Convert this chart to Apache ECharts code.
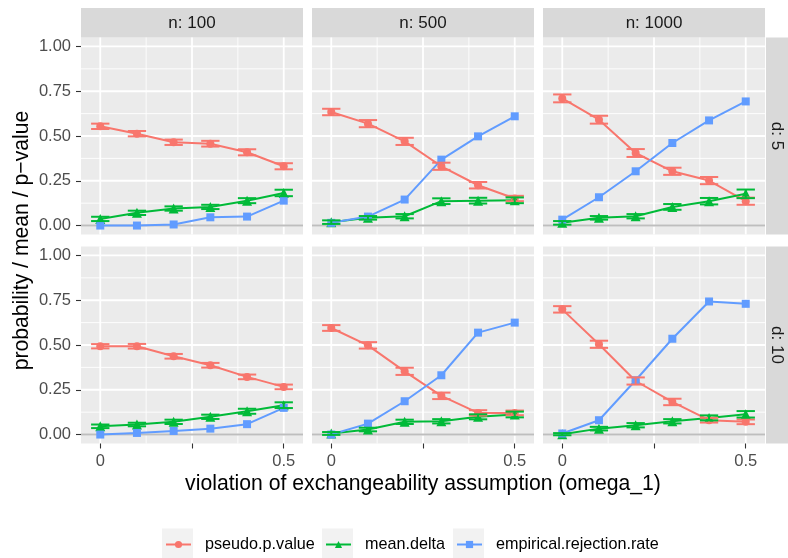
<!DOCTYPE html>
<html><head><meta charset="utf-8">
<script src="https://cdn.jsdelivr.net/npm/echarts@6/dist/echarts.min.js"></script>
<style>html,body{margin:0;padding:0;background:#fff}#c{width:788px;height:558px}</style>
</head><body><div id="c"></div>
<script>
// ---- data ----
const xValues = [0, 0.1, 0.2, 0.3, 0.4, 0.5];
const nLevels = ['n: 100', 'n: 500', 'n: 1000'];
const dLevels = ['d: 5', 'd: 10'];
const yTicks = [0, 0.25, 0.5, 0.75, 1];
const yTickLabels = ['0.00', '0.25', '0.50', '0.75', '1.00'];
const yMinor = [0.125, 0.375, 0.625, 0.875];
const xTicks = [0, 0.25, 0.5];
const xTickLabels = ['0', '', '0.5'];
const xMinor = [0.125, 0.375];
const seriesNames = ['pseudo.p.value', 'mean.delta', 'empirical.rejection.rate'];

// pseudo.p.value (mean) per panel
const pseudo_n100_d5  = [0.554, 0.513, 0.465, 0.457, 0.409, 0.331];
const pseudo_n500_d5  = [0.634, 0.569, 0.470, 0.331, 0.225, 0.151];
const pseudo_n1000_d5 = [0.710, 0.591, 0.405, 0.303, 0.251, 0.136];
const pseudo_n100_d10 = [0.493, 0.493, 0.437, 0.387, 0.322, 0.266];
const pseudo_n500_d10 = [0.595, 0.498, 0.353, 0.216, 0.121, 0.121];
const pseudo_n1000_d10= [0.699, 0.504, 0.299, 0.182, 0.080, 0.071];
// pseudo.p.value error half-widths
const pseudoErr_n100_d5  = [0.015, 0.015, 0.015, 0.016, 0.017, 0.017];
const pseudoErr_n500_d5  = [0.018, 0.020, 0.020, 0.020, 0.018, 0.015];
const pseudoErr_n1000_d5 = [0.022, 0.022, 0.022, 0.020, 0.020, 0.020];
const pseudoErr_n100_d10 = [0.012, 0.013, 0.013, 0.013, 0.013, 0.013];
const pseudoErr_n500_d10 = [0.016, 0.018, 0.020, 0.018, 0.015, 0.013];
const pseudoErr_n1000_d10= [0.018, 0.020, 0.020, 0.018, 0.013, 0.013];

// mean.delta
const delta_n100_d5  = [0.037, 0.071, 0.095, 0.104, 0.139, 0.182];
const delta_n500_d5  = [0.019, 0.043, 0.052, 0.136, 0.139, 0.141];
const delta_n1000_d5 = [0.015, 0.043, 0.052, 0.104, 0.136, 0.177];
const delta_n100_d10 = [0.046, 0.056, 0.071, 0.099, 0.130, 0.164];
const delta_n500_d10 = [0.006, 0.028, 0.071, 0.074, 0.099, 0.112];
const delta_n1000_d10= [0.002, 0.033, 0.052, 0.074, 0.093, 0.113];
const deltaErr_n100_d5  = [0.012, 0.012, 0.012, 0.012, 0.014, 0.018];
const deltaErr_n500_d5  = [0.010, 0.010, 0.012, 0.016, 0.016, 0.016];
const deltaErr_n1000_d5 = [0.010, 0.010, 0.012, 0.016, 0.018, 0.024];
const deltaErr_n100_d10 = [0.010, 0.010, 0.012, 0.012, 0.014, 0.016];
const deltaErr_n500_d10 = [0.008, 0.010, 0.012, 0.012, 0.014, 0.016];
const deltaErr_n1000_d10= [0.006, 0.010, 0.012, 0.012, 0.014, 0.018];

// empirical.rejection.rate
const reject_n100_d5  = [0.000, 0.000, 0.006, 0.046, 0.050, 0.139];
const reject_n500_d5  = [0.015, 0.050, 0.145, 0.368, 0.498, 0.610];
const reject_n1000_d5 = [0.033, 0.158, 0.303, 0.461, 0.587, 0.693];
const reject_n100_d10 = [0.000, 0.009, 0.020, 0.033, 0.058, 0.149];
const reject_n500_d10 = [0.000, 0.061, 0.186, 0.331, 0.569, 0.625];
const reject_n1000_d10= [0.006, 0.080, 0.303, 0.535, 0.743, 0.730];

const panelPseudo = [pseudo_n100_d5, pseudo_n500_d5, pseudo_n1000_d5, pseudo_n100_d10, pseudo_n500_d10, pseudo_n1000_d10];
const panelPseudoErr = [pseudoErr_n100_d5, pseudoErr_n500_d5, pseudoErr_n1000_d5, pseudoErr_n100_d10, pseudoErr_n500_d10, pseudoErr_n1000_d10];
const panelDelta = [delta_n100_d5, delta_n500_d5, delta_n1000_d5, delta_n100_d10, delta_n500_d10, delta_n1000_d10];
const panelDeltaErr = [deltaErr_n100_d5, deltaErr_n500_d5, deltaErr_n1000_d5, deltaErr_n100_d10, deltaErr_n500_d10, deltaErr_n1000_d10];
const panelReject = [reject_n100_d5, reject_n500_d5, reject_n1000_d5, reject_n100_d10, reject_n500_d10, reject_n1000_d10];

// ---- layout / style ----
const FONT = '"Liberation Sans", Arial, Helvetica, sans-serif';
const COLORS = ['#F8766D', '#00BA38', '#619CFF'];
const SYMBOLS = ['circle', 'triangle', 'rect'];
const SYMSIZE = [8, 10, 8];
const L = [81, 312, 543], T = [37.5, 246.5], W = 222, H = 197;
const SMALL = 16.5, STRIP = 17, LEG = 16.2, BIG = 21.2;

const chart = echarts.init(document.getElementById('c'), null, {renderer: 'canvas'});
const grids = [], xAxes = [], yAxes = [], series = [];

function lookup(vals, labels, v) {
  for (let k = 0; k < vals.length; k++) if (Math.abs(vals[k] - v) < 1e-9) return labels[k];
  return '';
}

for (let r = 0; r < 2; r++) {
  for (let c = 0; c < 3; c++) {
    const i = r * 3 + c;
    grids.push({left: L[c], top: T[r], width: W, height: H, show: true,
      backgroundColor: '#ebebeb', borderWidth: 0});
    xAxes.push({type: 'value', gridIndex: i, min: -0.0525, max: 0.5525, position: 'bottom',
      axisLine: {show: false, onZero: false}, splitLine: {show: false},
      axisTick: {show: r === 1, customValues: xTicks, length: 5, lineStyle: {color: '#333333', width: 1.1}},
      axisLabel: {show: r === 1, customValues: xTicks, margin: 9.5, color: '#4d4d4d', fontSize: SMALL, fontFamily: FONT,
        formatter: v => lookup(xTicks, xTickLabels, v)}});
    yAxes.push({type: 'value', gridIndex: i, min: -0.05, max: 1.05, position: 'left',
      axisLine: {show: false, onZero: false}, splitLine: {show: false},
      axisTick: {show: c === 0, customValues: yTicks, length: 5, lineStyle: {color: '#333333', width: 1.1}},
      axisLabel: {show: c === 0, customValues: yTicks, margin: 10, color: '#4d4d4d', fontSize: SMALL, fontFamily: FONT,
        formatter: v => lookup(yTicks, yTickLabels, v)}});

    // panel grid lines
    const gl = [].concat(
      yMinor.map(v => [0, v, 0]), yTicks.map(v => [0, v, 1]),
      xMinor.map(v => [v, 0, 2]), xTicks.map(v => [v, 0, 3]));
    series.push({type: 'custom', xAxisIndex: i, yAxisIndex: i, silent: true, z: 0,
      data: gl, encode: {x: 0, y: 1},
      renderItem: (params, api) => {
        const cs = params.coordSys, kind = api.value(2);
        const lw = (kind === 1 || kind === 3) ? 1.8 : 0.9;
        if (kind < 2) {
          const p = api.coord([0, api.value(1)]);
          return {type: 'line', shape: {x1: cs.x, y1: p[1], x2: cs.x + cs.width, y2: p[1]}, style: {stroke: '#ffffff', lineWidth: lw}};
        }
        const p = api.coord([api.value(0), 0]);
        return {type: 'line', shape: {x1: p[0], y1: cs.y, x2: p[0], y2: cs.y + cs.height}, style: {stroke: '#ffffff', lineWidth: lw}};
      }});
    // zero reference line
    series.push({type: 'custom', xAxisIndex: i, yAxisIndex: i, silent: true, z: 1,
      data: [[0, 0]], encode: {x: 0, y: 1},
      renderItem: (params, api) => {
        const cs = params.coordSys, p = api.coord([0, api.value(1)]);
        return {type: 'line', shape: {x1: cs.x, y1: p[1], x2: cs.x + cs.width, y2: p[1]}, style: {stroke: '#bebebe', lineWidth: 2}};
      }});

    const vals = [panelPseudo[i], panelDelta[i], panelReject[i]];
    const errs = [panelPseudoErr[i], panelDeltaErr[i], null];
    for (let s = 0; s < 3; s++) {
      series.push({type: 'line', name: seriesNames[s], xAxisIndex: i, yAxisIndex: i, z: 2,
        data: xValues.map((x, j) => [x, vals[s][j]]),
        symbol: SYMBOLS[s], symbolSize: SYMSIZE[s], showSymbol: true,
        lineStyle: {color: COLORS[s], width: 2}, itemStyle: {color: COLORS[s]},
        emphasis: {disabled: true}});
      if (errs[s]) {
        const col = COLORS[s];
        series.push({type: 'custom', name: seriesNames[s] + ' error', xAxisIndex: i, yAxisIndex: i, z: 3, silent: true,
          data: xValues.map((x, j) => [x, vals[s][j] - errs[s][j], vals[s][j] + errs[s][j]]),
          encode: {x: 0, y: [1, 2]},
          renderItem: (params, api) => {
            const x = api.value(0), lo = api.value(1), hi = api.value(2);
            const a = api.coord([x - 0.025, lo]), b = api.coord([x + 0.025, hi]);
            const m = api.coord([x, lo]), n = api.coord([x, hi]);
            const st = {stroke: col, lineWidth: 2};
            return {type: 'group', children: [
              {type: 'line', shape: {x1: m[0], y1: m[1], x2: n[0], y2: n[1]}, style: st},
              {type: 'line', shape: {x1: a[0], y1: a[1], x2: b[0], y2: a[1]}, style: st},
              {type: 'line', shape: {x1: a[0], y1: b[1], x2: b[0], y2: b[1]}, style: st}
            ]};
          }});
      }
    }
  }
}

// strips, titles, legend key backgrounds
const graphic = [];
for (let c = 0; c < 3; c++) {
  graphic.push({type: 'rect', shape: {x: L[c], y: 8, width: W, height: 29.5}, style: {fill: '#d9d9d9'}, silent: true});
  graphic.push({type: 'text', x: L[c] + W / 2, y: 23, silent: true,
    style: {text: nLevels[c], fill: '#1a1a1a', font: STRIP + 'px ' + FONT, textAlign: 'center', textVerticalAlign: 'middle'}});
}
for (let r = 0; r < 2; r++) {
  graphic.push({type: 'rect', shape: {x: 766, y: T[r], width: 22, height: H}, style: {fill: '#d9d9d9'}, silent: true});
  graphic.push({type: 'text', x: 777, y: T[r] + H / 2, rotation: -Math.PI / 2, silent: true,
    style: {text: dLevels[r], fill: '#1a1a1a', font: STRIP + 'px ' + FONT, textAlign: 'center', textVerticalAlign: 'middle'}});
}
graphic.push({type: 'text', x: 22, y: 240.5, rotation: Math.PI / 2, silent: true,
  style: {text: 'probability / mean / p\u2212value', fill: '#000', font: BIG + 'px ' + FONT, textAlign: 'center', textVerticalAlign: 'middle'}});
graphic.push({type: 'text', x: 423, y: 484, silent: true,
  style: {text: 'violation of exchangeability assumption (omega_1)', fill: '#000', font: BIG + 'px ' + FONT, textAlign: 'center', textVerticalAlign: 'middle'}});

const keyX = [162, 322, 453];
keyX.forEach(x => graphic.push({type: 'rect', shape: {x: x, y: 528.5, width: 31, height: 32}, style: {fill: '#f2f2f2'}, silent: true, z: -1}));

const legends = seriesNames.map((nm, k) => ({
  data: [nm], left: keyX[k] + 3, top: 534.5, orient: 'horizontal', padding: 0,
  itemWidth: 25, itemHeight: 9, selectedMode: false,
  textStyle: {fontSize: LEG, color: '#000', fontFamily: FONT, padding: [0, 0, 0, 9], lineHeight: 20}
}));

chart.setOption({
  animation: false,
  backgroundColor: '#ffffff',
  grid: grids, xAxis: xAxes, yAxis: yAxes, series: series,
  legend: legends, graphic: graphic
});
</script></body></html>
